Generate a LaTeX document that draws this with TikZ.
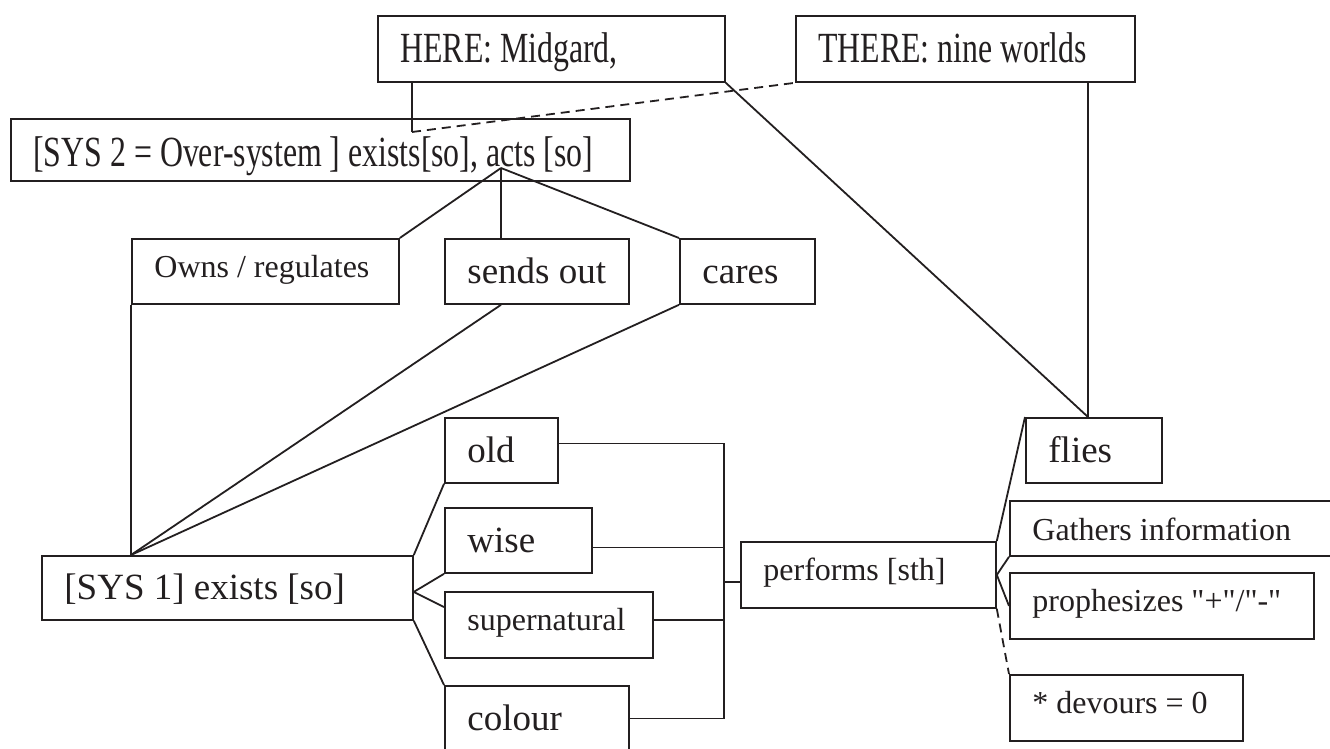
\documentclass[tikz,border=0pt]{standalone}
\usepackage{fontspec}
\setmainfont{Liberation Serif}[Ligatures=TeXOff]
\newfontfamily\condensedserif{Liberation Serif}[FakeStretch=0.74, Ligatures=TeXOff]
\usepackage{xcolor}
\definecolor{Black}{RGB}{35,31,32}
\definecolor{White}{RGB}{255,255,255}
\newcommand{\largetext}			{ \fontsize{37}{44}\selectfont }
\newcommand{\smalltext}			{ \fontsize{32}{38}\selectfont }
\newcommand{\toptext}			{ \condensedserif\fontsize{43}{50}\selectfont }
\usepackage{tikz}

\begin{document}
\begin{tikzpicture}[x=1pt, y=-1pt,
		box/.style={rectangle, draw=Black, fill=White, line width=1.8pt, text=Black, anchor=north west, align=left, inner xsep=20pt, inner ysep=0pt, execute at begin node={\spaceskip=0pt\xspaceskip=0pt}},
		bigbox/.style={box, font=\largetext, text height=33pt, text depth=9pt},
		smallbox/.style={box, font=\smalltext, text height=20pt, text depth=8pt},
		topbox/.style={box, font=\toptext, text height=38pt, text depth=11pt},
		link/.style={-, draw=Black, line width=1.8pt},
		maybe/.style={link, dash pattern=on 9pt off 6pt}]
		
		% Page
		\path[use as bounding box] (0,0) rectangle (1330,748);
		\clip (0,0) rectangle (1330,748);
		\fill[White] (0,0) rectangle (1330,748);
		
		% Worlds
		\node[topbox, text width=307pt, minimum height=66pt] (here) at (377,15) {HERE: Midgard,};
		\node[topbox, text width=299pt, minimum height=66pt] (there) at (795,15) {THERE: nine worlds};
		
		% Systems
		\node[topbox, text width=579pt, minimum height=62pt, text height=44pt] (oversys) at (10,118) {\mbox{[SYS 2 = Over-system ] exists[so], acts [so]}};
		\node[bigbox, text width=331pt, minimum height=64pt] (sysone) at (41,555) {[SYS 1] exists [so]};
		
		% Relations
		\node[smallbox, text width=227pt, minimum height=65pt] (owns) at (131,238) {Owns / regulates};
		\node[bigbox, text width=144pt, minimum height=65pt] (sendsout) at (444,238) {sends out};
		\node[bigbox, text width=95pt, minimum height=65pt] (cares) at (679,238) {cares};
		
		% Properties
		\node[bigbox, text width=73pt, minimum height=65pt] (old) at (444,417) {old};
		\node[bigbox, text width=107pt, minimum height=65pt] (wise) at (444,507) {wise};
		\node[smallbox, text width=168pt, minimum height=66pt] (supernat) at (444,591) {supernatural};
		\node[bigbox, text width=144pt, minimum height=65pt] (colour) at (444,685) {colour};
		
		% Actions
		\node[smallbox, text width=215pt, minimum height=66pt] (performs) at (740,541) {performs [sth]};
		\node[bigbox, text width=96pt, minimum height=65pt] (flies) at (1025,417) {flies};
		\node[smallbox, text width=291pt, minimum height=55pt, text height=33pt] (gathers) at (1009,500) {Gathers information};
		\node[smallbox, text width=264pt, minimum height=66pt] (prophes) at (1009,572) {prophesizes "+"/"-"};
		\node[smallbox, text width=193pt, minimum height=66pt] (devours) at (1009,674) {* devours = 0};
		
		% Points
		\coordinate (herefoot) at (412,132);
		\coordinate (flyin) at (1088,417);
		\coordinate (acts) at (501,168);
		\coordinate (sysroot) at (owns.south west |- sysone.north);
		\coordinate (sysfork) at ([yshift=-4pt]sysone.east);
		\coordinate (bar) at (724,0);
		\coordinate (oldout) at ([yshift=7pt]old.east);
		\coordinate (wiseout) at ([yshift=-7pt]wise.east);
		\coordinate (superout) at ([yshift=5pt]supernat.east);
		\coordinate (perfin) at ([yshift=-7pt]performs.west);
		
		% Links of the worlds
		\draw[link] (herefoot |- here.south) -- (herefoot);
		\draw[maybe] (herefoot) -- (there.south west);
		\draw[link] (here.south east) -- (flyin);
		\draw[link] (flyin |- there.south) -- (flyin);
		
		% Links of the over-system
		\draw[link] (acts) -- (owns.north east);
		\draw[link] (acts) -- (acts |- sendsout.north);
		\draw[link] (acts) -- (cares.north west);
		
		\draw[link] (owns.south west) -- (sysroot);
		\draw[link] (acts |- sendsout.south) -- (sysroot);
		\draw[link] (cares.south west) -- (sysroot);
		
		% Links of the properties
		\draw[link] (sysone.north east) -- (old.south west);
		\draw[link] (sysfork) -- (wise.south west);
		\draw[link] (sysfork) -- ([yshift=-16pt]supernat.north west);
		\draw[link] (sysone.south east) -- (colour.north west);
		
		\draw[link] (oldout) -| (bar |- colour.east) -- (colour.east);
		\draw[link] (wiseout) -- (bar |- wiseout);
		\draw[link] (superout) -- (bar |- superout);
		\draw[link] (bar |- perfin) -- (perfin);
		
		% Links of the actions
		\draw[link] (performs.north east) -- (flies.north west);
		\draw[link] (performs.east) -- (gathers.south west);
		\draw[link] (performs.east) -- (prophes.west);
		\draw[maybe] (performs.south east) -- (devours.north west);
		
	\end{tikzpicture}
\end{document}
